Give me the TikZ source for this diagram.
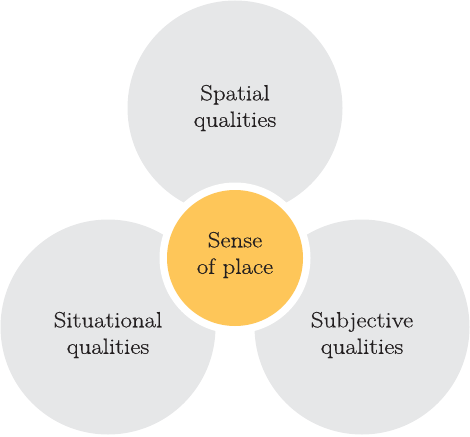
\documentclass[tikz,border=0pt]{standalone}
\usepackage{fontspec}
\setmainfont{Latin Modern Roman}[FakeStretch=1.13,FakeBold=0.6]
\definecolor{greyfill}{HTML}{E6E7E8}
\definecolor{orangefill}{HTML}{FEC659}
\definecolor{txt}{HTML}{231F20}
\begin{document}
\begin{tikzpicture}[x=1pt,y=1pt,
  qual/.style={circle, fill=greyfill, minimum size=215pt, inner sep=0pt},
  core/.style={circle, fill=orangefill, minimum size=136pt, inner sep=0pt},
  gap/.style={circle, fill=white, minimum size=151pt, inner sep=0pt},
  label/.style={align=center, text=txt, inner sep=0pt, font=\fontsize{22}{26.5}\selectfont}]
\useasboundingbox (0,0) rectangle (470,-436);
\node[qual] (spatial) at (235,-108) {};
\node[qual] (situational) at (108,-327) {};
\node[qual] (subjective) at (362,-327) {};
\node[gap] (ring) at (235,-258) {};
\node[core] (sense) at (ring.center) {};
\node[label] (tspatial) at ([yshift=0pt]spatial.center) {Spatial\\qualities};
\node[label] (tsituational) at ([yshift=-8pt]situational.center) {Situational\\qualities};
\node[label] (tsubjective) at ([yshift=-8pt]subjective.center) {Subjective\\qualities};
\node[label] (tsense) at ([yshift=3pt]sense.center) {Sense\\of place};
\end{tikzpicture}
\end{document}
